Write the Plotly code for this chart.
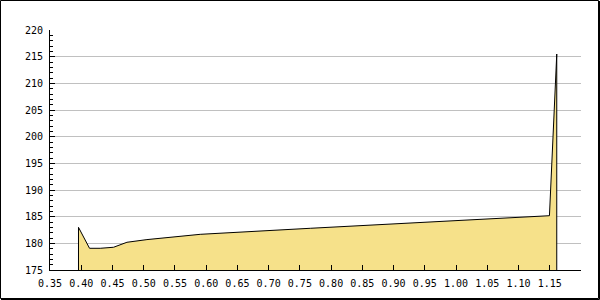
import plotly.graph_objects as go

# data
x_vals = [0.3956, 0.4133, 0.4304, 0.4517, 0.4732, 0.5052, 0.5425, 0.5905,
          0.7667, 0.9589, 1.1495, 1.1612]
y_vals = [183.0, 179.07, 179.07, 179.26, 180.2, 180.7, 181.13, 181.69,
          182.82, 184.06, 185.18, 215.5]
y_min, y_max = 175, 220
x_min, x_max = 0.35, 1.20
x_ticks = [round(0.35 + 0.05 * i, 2) for i in range(17)]
y_ticks = list(range(175, 221, 5))

# close the area polygon down to the axis base
px = [x_vals[0]] + x_vals + [x_vals[-1]]
py = [y_min] + y_vals + [y_min]

fig = go.Figure()
fig.add_trace(go.Scatter(
    x=px, y=py, mode="lines", fill="toself", fillcolor="#F6E18A",
    line=dict(color="black", width=1), hoverinfo="skip", showlegend=False))

L, R, T, B = 50, 19, 30, 30
W, H = 600, 300
pw, ph = W - L - R, H - T - B


def xp(p):
    return (p - L) / pw


def yp(p):
    return (H - B - p) / ph


fig.add_shape(type="rect", xref="paper", yref="paper",
              x0=xp(0.5), x1=xp(598.5), y0=yp(298.5), y1=yp(0.5),
              line=dict(color="black", width=1))
fig.add_shape(type="line", xref="paper", yref="paper",
              x0=xp(599.5), x1=xp(599.5), y0=yp(299.5), y1=yp(1),
              line=dict(color="black", width=1))
fig.add_shape(type="line", xref="paper", yref="paper",
              x0=xp(1), x1=xp(599.5), y0=yp(299.5), y1=yp(299.5),
              line=dict(color="black", width=1))

font = dict(family="DejaVu Sans Mono", size=10, color="black")
fig.update_layout(
    width=W, height=H, margin=dict(l=L, r=R, t=T, b=B),
    paper_bgcolor="white", plot_bgcolor="white", font=font,
    xaxis=dict(range=[x_min, x_max], tickvals=x_ticks,
               ticktext=[f"{v:.2f}" for v in x_ticks],
               ticks="inside", ticklen=5, tickcolor="black",
               showline=True, linecolor="black", linewidth=1,
               showgrid=False, zeroline=False, tickfont=font,
               ticklabelstandoff=4),
    yaxis=dict(range=[y_min, y_max], tickvals=y_ticks,
               ticks="inside", ticklen=5, tickcolor="black",
               minor=dict(ticks="inside", ticklen=3, dtick=1,
                          tickcolor="black", showgrid=False),
               showline=True, linecolor="black", linewidth=1,
               showgrid=True, gridcolor="#C0C0C0", gridwidth=1,
               zeroline=False, tickfont=font, ticklabelstandoff=4),
)

fig.write_html("out.html")
